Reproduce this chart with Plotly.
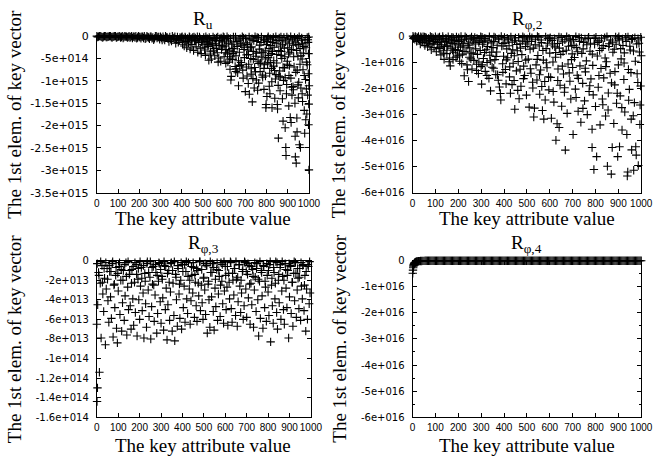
import plotly.graph_objects as go

# ---------------- tick labels ----------------
x_tickvals = [0, 100, 200, 300, 400, 500, 600, 700, 800, 900, 1000]
x_ticktext = ["0", "100", "200", "300", "400", "500", "600", "700", "800", "900", "1000"]

p1_tickvals = [0, -5e14, -1e15, -1.5e15, -2e15, -2.5e15, -3e15, -3.5e15]
p1_ticktext = ["0", "-5e+014", "-1e+015", "-1.5e+015", "-2e+015", "-2.5e+015", "-3e+015", "-3.5e+015"]
p2_tickvals = [0, -1e16, -2e16, -3e16, -4e16, -5e16, -6e16]
p2_ticktext = ["0", "-1e+016", "-2e+016", "-3e+016", "-4e+016", "-5e+016", "-6e+016"]
p3_tickvals = [0, -2e13, -4e13, -6e13, -8e13, -1e14, -1.2e14, -1.4e14, -1.6e14]
p3_ticktext = ["0", "-2e+013", "-4e+013", "-6e+013", "-8e+013", "-1e+014", "-1.2e+014", "-1.4e+014", "-1.6e+014"]

titles = ["R<sub>u</sub>", "R<sub>\u03c6,2</sub>", "R<sub>\u03c6,3</sub>", "R<sub>\u03c6,4</sub>"]
xlabel = "The key attribute value"
ylabel = "The 1st elem. of key vector"

# ---------------- panel 1 (R_u), y in units of 1e14 ----------------
p1_unit = 1e14
p1_xa = [0,8,16,24,32,40,48,56,64,72,80,88,96,104,112,120,128,136,144,152,160,168,176,184,192,200,208,216,224,232,240,248,256,264,272,280,288,296,304,312,320,328,336,344,352,360,368,376,384,392]
p1_ya = [0,-0.1,0,-0.2,-0.1,0,-0.2,-0.1,0,-0.3,-0.1,0,-0.2,-0.1,-0.3,0,-0.2,-0.1,-0.3,0,-0.2,-0.4,-0.1,0,-0.3,-0.2,-0.5,-0.1,0,-0.4,-0.2,-0.6,-0.1,-0.3,-0.5,0,-0.2,-0.7,-0.4,-0.1,-0.9,-0.3,-0.6,-0.2,-1.1,-0.5,-0.1,-0.8,-1.4,-0.3]
p1_xb = [4,12,20,28,36,44,52,60,68,76,84,92,100,108,116,124,132,140,148,156,164,172,180,188,196,204,212,220,228,236,244,252,260,268,276,284,292,300,308,316,324,332,340,348,356,364,372,380,388,396]
p1_yb = [-0.2,0,-0.1,-0.3,0,-0.2,-0.1,0,-0.2,-0.1,0,-0.3,-0.1,0,-0.2,-0.4,0,-0.1,-0.2,-0.3,0,-0.1,-0.3,-0.5,0,-0.2,-0.1,-0.4,-0.6,0,-0.3,-0.1,-0.5,-0.8,0,-0.4,-0.2,-0.1,-0.9,-0.5,0,-0.3,-1.2,-0.7,0,-0.4,-1.6,-0.2,-0.9,-0.5]
p1_xc = [400,404,408,412,416,420,424,428,432,436,440,444,448,452,456,460,464,468,472,476,480,484,488,492,496,500,504,508,512,516,520,524,528,532,536,540,544,548,552,556,560,564,568,572,576,580,584,588,592,596,600,
         402,418,426,438,446,458,466,474,486,494,506,514,522,530,538,546,554,562,570,578,586,594]
p1_yc = [-0.3,-1.8,-0.6,-2.2,-0.2,-1.2,-2.6,-0.5,-1.5,-0.1,-2.9,-0.8,-1.9,-0.3,-3.2,-1.1,-0.4,-2.4,-0.7,-3.6,-1.4,-0.2,-2.7,-3.9,-0.9,-1.8,-0.3,-3.1,-4.3,-1.2,-0.5,-2.3,-5.4,-0.8,-3.5,-5.1,-1.6,-0.2,-2.8,-4.4,-1.0,-0.4,-3.7,-5.8,-2.1,-0.6,-5.6,-3.0,-1.3,-0.1,-4.6,
         -0.1,-0.4,-0.9,-0.3,-0.6,-0.2,-1.0,-0.1,-0.5,-1.3,-0.7,-0.1,-1.5,-0.3,-0.9,-2.0,-0.5,-1.7,-0.2,-1.0,-0.4,-2.4]
p1_xd = [600,604,608,612,616,620,624,628,632,634,636,640,644,648,652,656,660,664,668,672,676,680,684,688,692,696,700,704,708,712,716,719,722,726,730,733,736,740,744,748,752,756,760,763,766,770,774,778,782,786,790,794,797,798,800,
         602,614,622,630,638,646,654,662,670,678,686,694,702,710,718,724,732,738,746,754,762,768,776,784,792,
         606,626,642,658,674,690,706,714,728,742,750,758,772,780,788,796]
p1_yd = [-0.3,-2.2,-6.1,-1.1,-4.0,-0.5,-3.3,-7.4,-9.8,-9.0,-1.8,-5.2,-0.2,-2.7,-6.8,-4.4,-1.2,-8.2,-11.1,-3.6,-0.6,-5.9,-2.0,-7.6,-0.4,-4.8,-12.4,-1.5,-8.9,-3.1,-6.3,-13.0,-0.8,-5.0,-2.4,-14.7,-9.5,-1.0,-7.0,-8.0,-3.8,-0.3,-5.6,-10.5,-2.9,-7.9,-1.4,-4.7,-9.2,-0.7,-6.4,-3.3,-16.0,-15.3,-1.9,
         -0.8,-0.1,-1.6,-0.6,-2.8,-1.3,-0.2,-2.3,-0.9,-1.7,-0.1,-3.0,-0.5,-1.9,-0.2,-2.6,-0.6,-3.4,-0.1,-1.2,-0.4,-2.0,-0.2,-3.7,-0.9,
         -3.7,-5.1,-3.9,-7.3,-6.6,-9.4,-4.2,-10.6,-8.5,-11.6,-4.5,-12.1,-6.0,-8.7,-11.9,-5.1]
p1_xe = [802,806,810,813,816,820,824,826,830,834,839,842,846,851,852,856,858,862,864,868,872,878,880,884,888,891,892,894,898,902,906,910,912,916,920,924,927,930,935,936,940,943,944,948,952,955,960,964,968,972,976,978,980,985,988,990,994,996,998,1000,1000,999,997,
         804,808,812,818,822,828,832,836,844,848,854,860,866,870,874,876,882,886,890,896,900,904,908,914,918,922,926,932,938,942,946,950,954,958,962,966,970,974,982,986,992,995,999,
         805,815,825,833,845,855,865,875,885,895,905,915,925,934,945,950,962,970,984,992]
p1_ye = [-13.5,-0.4,-4.3,-11.2,-12.9,-2.1,-7.2,-16.0,-0.8,-5.5,-13.9,-9.6,-1.6,-15.3,-16.3,-22.8,-3.2,-7.8,-12.2,-0.2,-5.0,-19.0,-9.9,-2.7,-20.5,-24.9,-26.7,-12.9,-6.3,-0.6,-8.8,-3.6,-18.2,-19.3,-13.2,-1.1,-12.0,-6.9,-22.4,-27.0,-28.4,-18.3,-21.4,-4.5,-10.3,-24.3,-24.9,-0.9,-12.9,-7.5,-2.3,-16.6,-21.7,-18.7,-5.8,-17.4,-13.2,-1.4,-19.8,-29.9,-11.1,-15.2,-8.4,
         -1.2,-0.1,-2.8,-0.6,-3.9,-1.4,-0.3,-2.5,-0.1,-4.1,-1.0,-0.4,-2.2,-3.4,-0.9,-1.8,-0.3,-4.6,-1.3,-0.2,-2.6,-4.0,-1.6,-0.1,-3.0,-0.7,-2.0,-0.3,-1.5,-3.2,-0.5,-1.9,-0.1,-2.8,-4.4,-0.4,-1.7,-3.8,-0.8,-2.6,-0.3,-0.8,-0.2,
         -6.2,-8.3,-10.2,-6.7,-8.6,-11.0,-9.1,-14.0,-7.1,-10.8,-15.6,-9.4,-11.3,-15.0,-7.6,-13.8,-11.6,-14.6,-9.7,-6.4]
p1_xf = [510,525,535,550,565,575,590,610,618,632,645,655,668,682,695,705,715,728,738,752,765,775,788,795,808,818,828,838,848,858,868,878,888,898,908,918,928,938,948,958,968,978,988,998]
p1_yf = [-2.6,-1.9,-4.0,-3.3,-2.7,-4.9,-2.0,-3.0,-5.8,-4.6,-3.5,-7.9,-5.5,-6.4,-2.5,-6.9,-4.1,-7.3,-5.2,-9.8,-6.1,-3.6,-7.2,-8.9,-4.8,-5.9,-3.4,-7.7,-6.0,-8.9,-4.3,-7.0,-9.3,-5.6,-6.6,-11.4,-4.6,-8.1,-10.9,-6.3,-5.1,-8.8,-11.8,-3.9]

# ---------------- panel 2 (R_phi,2), y in units of 1e15 ----------------
p2_unit = 1e15
p2_xa = [2,6,10,14,18,22,26,30,34,38,42,46,50,54,58,62,66,70,74,78,82,86,90,94,98, 4,12,20,28,36,44,52,60,68,76,84,92,
         100,104,108,112,116,120,124,128,132,136,138,142,146,150,154,158,162,165,168,172,176,177,180,184,188,192,196,200,
         102,110,118,126,134,140,148,156,164,170,178,186,194,198]
p2_ya = [0,-0.5,-1.2,-0.3,-2.0,-0.8,-0.1,-1.6,-3.0,-0.6,-2.4,-0.2,-1.1,-3.6,-0.4,-2.2,-4.1,-0.9,-1.7,-0.1,-5.2,-2.9,-0.7,-4.4,-1.3,
         -0.9,-0.1,-0.5,-1.0,-0.2,-1.4,-0.3,-0.8,-2.7,-3.3,-0.4,-2.0,
         -0.2,-6.0,-2.5,-0.6,-4.8,-1.4,-7.2,-3.3,-0.1,-5.6,-8.9,-2.1,-0.8,-6.7,-3.9,-1.2,-8.4,-11.4,-4.6,-0.4,-2.8,-9.0,-6.2,-1.7,-5.1,-0.3,-7.6,-3.4,
         -1.0,-3.1,-0.3,-2.2,-1.0,-4.0,-1.8,-0.2,-2.6,-1.1,-0.6,-3.0,-1.5,-5.5]
p2_xb = [202,206,210,214,218,222,226,230,234,238,242,245,248,252,256,260,264,268,272,276,280,284,288,292,296,300,
         204,212,220,228,236,244,250,258,266,274,282,290,298,
         302,306,310,314,318,322,326,330,334,338,341,344,348,352,356,360,364,368,372,376,380,384,386,390,394,398,
         304,312,320,328,336,346,354,362,370,378,388,396]
p2_yb = [-0.6,-9.6,-4.2,-1.5,-6.9,-2.7,-15.2,-0.2,-5.8,-11.0,-3.5,-17.4,-8.1,-1.0,-6.4,-12.6,-2.3,-9.3,-0.5,-4.9,-10.8,-7.0,-14.3,-1.8,-5.5,-11.7,
         -2.0,-0.1,-3.8,-1.2,-0.7,-2.9,-4.5,-0.3,-1.4,-3.0,-0.9,-2.5,-0.2,
         -18.4,-3.1,-8.6,-0.9,-13.5,-5.2,-10.1,-1.6,-16.2,-7.3,-21.0,-2.6,-11.9,-4.4,-0.3,-9.0,-14.7,-6.1,-14.8,-1.2,-19.5,-22.0,-24.5,-3.8,-10.6,-7.7,
         -0.4,-2.2,-1.0,-4.0,-0.2,-6.2,-2.0,-0.6,-3.5,-1.0,-0.1,-2.8]
p2_xc = [402,406,409,412,416,420,424,428,432,436,440,444,447,450,454,458,462,466,470,474,478,482,486,490,494,498,
         404,414,422,430,438,446,456,464,472,480,488,496,
         502,506,510,514,518,522,526,530,533,536,540,544,548,552,556,560,564,568,572,574,578,580,584,588,592,596,600,
         504,512,520,528,538,546,554,562,570,582,590,598]
p2_yc = [-0.5,-12.8,-18.3,-4.9,-8.3,-1.4,-15.6,-21.9,-6.6,-2.3,-10.4,-17.0,-28.0,-0.7,-13.3,-5.6,-9.7,-24.0,-2.9,-19.2,-7.1,-0.2,-11.5,-15.1,-4.0,-22.6,
         -2.6,-0.8,-3.7,-0.3,-5.2,-1.6,-3.2,-0.5,-4.6,-1.9,-0.6,-2.2,
         -1.1,-8.8,-27.2,-5.0,-14.2,-0.6,-19.9,-31.0,-27.6,-3.3,-11.0,-16.8,-7.4,-0.4,-22.3,-13.0,-2.5,-28.5,-9.2,-31.8,-17.4,-24.5,-4.8,-12.1,-0.9,-20.6,-6.5,
         -3.0,-0.2,-2.0,-4.6,-1.2,-0.1,-3.8,-1.5,-5.5,-0.3,-2.7,-1.0]
p2_xd = [604,607,610,614,618,622,627,632,636,640,641,645,648,652,656,660,664,668,672,676,680,684,688,692,696,700,702,
         602,612,620,626,634,642,650,658,666,674,682,690,698,
         704,708,712,716,720,724,728,732,736,740,744,748,752,756,760,764,768,772,776,780,785,785,788,793,796,800,805,
         706,714,722,730,738,746,754,762,770,778,786,794]
p2_yd = [-15.8,-31.5,-1.7,-9.9,-25.3,-4.1,-39.9,-33.6,-12.6,-0.3,-35.0,-18.8,-7.0,-26.9,-2.2,-14.5,-21.5,-43.7,-5.4,-29.6,-10.7,-0.8,-17.3,-24.1,-3.6,-12.0,-37.7,
         -0.6,-3.4,-1.0,-6.3,-2.8,-4.6,-0.5,-5.9,-1.4,-0.2,-3.9,-1.8,-6.8,
         -1.3,-8.2,-20.3,-4.3,-15.0,-28.8,-0.5,-11.4,-33.0,-6.6,-18.1,-2.4,-24.8,-13.7,-9.5,-30.1,-0.9,-21.2,-5.8,-16.4,-35.7,-42.7,-11.2,-51.1,-3.1,-27.0,-46.2,
         -3.5,-0.2,-6.0,-2.0,-0.7,-4.9,-1.1,-3.3,-0.4,-2.7,-6.9,-0.9]
p2_xe = [808,812,816,820,824,828,832,836,840,844,848,852,856,860,864,869,873,876,880,884,888,892,897,900,
         802,810,818,826,834,842,850,858,866,874,882,890,898,
         904,905,908,912,916,920,924,928,932,937,939,941,944,948,952,956,958,962,967,970,974,976,978,982,987,990,994,997,1000,
         902,910,918,926,934,942,950,958,966,972,980,986,992,998]
p2_ye = [-7.6,-19.6,-1.8,-34.0,-12.4,-4.7,-26.3,-16.0,-0.6,-30.6,-9.8,-49.9,-21.8,-2.9,-14.2,-52.9,-42.7,-6.2,-33.5,-18.7,-0.3,-25.7,-46.2,-11.0,
         -0.4,-2.4,-5.5,-1.0,-3.6,-8.4,-0.2,-4.0,-1.5,-2.3,-5.0,-3.1,-0.8,
         -1.5,-42.4,-22.9,-8.7,-36.0,-3.6,-16.6,-29.1,-0.4,-37.7,-53.6,-52.1,-12.8,-20.4,-5.3,-31.8,-43.6,-0.9,-51.4,-25.5,-9.6,-42.4,-45.6,-14.4,-49.6,-2.7,-33.9,-19.1,-7.5,
         -0.2,-4.8,-1.1,-6.4,-2.0,-0.3,-3.9,-1.3,-5.7,-0.6,-3.0,-1.0,-6.1,-0.4]
p2_xf = [120,135,150,160,175,190,205,215,225,240,255,265,280,290,305,315,325,340,355,365,375,395,410,425,435,445,460,470,485,495,
         515,525,545,555,565,585,595,615,625,635,655,665,685,695,715,725,745,755,775,790,815,830,845,855,870,885,895,915,925,945,
         955,965,985,995]
p2_yf = [-4.2,-6.5,-3.7,-9.8,-5.4,-8.1,-7.3,-10.5,-5.9,-12.9,-8.7,-6.8,-13.2,-9.9,-11.0,-6.3,-15.1,-9.5,-12.3,-7.8,
         -16.9,-13.9,-9.1,-11.8,-18.6,-7.5,-20.8,-12.7,-16.3,-9.2,-12.5,-17.7,-8.9,-14.8,-19.3,-10.2,-15.6,-21.2,-8.1,-17.0,
         -11.5,-19.8,-14.1,-9.0,-23.5,-16.2,-27.7,-12.3,-19.0,-22.5,-15.1,-24.1,-11.7,-28.3,-17.9,-13.6,-21.9,-27.4,-10.3,-24.6,
         -14.0,-30.5,-17.8,-26.4]

# ---------------- panel 3 (R_phi,3), y in units of 1e13 ----------------
p3_unit = 1e13
p3_xa = [0,4,8,12,16,20,24,28,32,36,40,44,48,52,56,60,64,68,72,76,80,84,88,92,96,
         100,104,108,112,116,120,124,128,132,136,140,144,148,152,156,160,164,168,172,176,180,184,188,192,196,
         200,204,208,212,216,220,224,228,232,236,240,244,248,252,256,260,264,268,272,276,280,284,288,292,296,
         300,304,308,312,316,320,324,328,332,336,340,344,348,352,356,360,364,368,372,376,380,384,388,392,396,
         400,404,408,412,416,420,424,428,432,436,440,444,448,452,456,460,464,468,472,476,480,484,488,492,496,
         500,504,508,512,516,520,524,528,532,536,540,544,548,552,556,560,564,568,572,576,580,584,588,592,596,
         600,604,608,612,616,620,624,628,632,636,640,644,648,652,656,660,664,668,672,676,680,684,688,692,696,
         700,704,708,712,716,720,724,728,732,736,740,744,748,752,756,760,764,768,772,776,780,784,788,792,796,
         800,804,808,812,816,820,824,828,832,836,840,844,848,852,856,860,864,868,872,876,880,884,888,892,896,
         900,904,908,912,916,920,924,928,932,936,940,944,948,952,956,960,964,968,972,976,980,984,988,992,996]
p3_ya = [-6.5,-4.5,-1.2,-11.4,-2.3,-7.9,-0.5,-3.4,-5.2,-1.8,-8.6,-2.9,-0.8,-4.1,-6.3,-1.1,-3.7,-5.9,-0.3,-7.8,-2.5,-4.8,-1.5,-6.9,-8.4,
         -3.1,-0.6,-5.5,-2.0,-7.2,-4.3,-1.0,-6.1,-3.6,-0.2,-7.6,-2.7,-5.0,-1.4,-4.6,-7.0,-0.9,-3.9,-6.6,-2.2,-5.3,-0.4,-7.7,-1.9,-4.0,
         -6.0,-2.6,-0.7,-5.1,-3.3,-7.9,-1.3,-4.4,-6.8,-0.1,-3.0,-5.7,-1.7,-8.0,-4.7,-2.4,-0.6,-6.2,-3.5,-1.2,-7.4,-5.4,-2.1,-0.3,-4.2,
         -6.4,-1.6,-3.8,-7.1,-0.5,-5.0,-2.8,-8.1,-4.5,-1.0,-6.1,-3.2,-0.2,-7.2,-2.3,-5.6,-8.2,-1.4,-4.0,-6.7,-0.8,-3.4,-5.9,-2.0,-7.0,
         -0.4,-4.8,-2.6,-6.3,-1.1,-3.9,-5.4,-0.2,-2.9,-6.5,-4.1,-1.5,-3.3,-0.7,-5.8,-2.2,-4.6,-6.2,-1.0,-3.6,-0.1,-5.1,-2.5,-4.3,-6.0,
         -1.7,-3.0,-5.5,-0.5,-7.4,-2.4,-4.0,-6.8,-1.2,-3.7,-0.3,-5.2,-7.1,-2.8,-4.7,-0.9,-6.1,-3.4,-1.6,-5.7,-0.2,-2.1,-4.4,-6.4,-3.1,
         -0.6,-5.0,-2.7,-6.6,-1.3,-3.9,-0.1,-4.9,-6.3,-2.0,-3.5,-0.8,-5.6,-1.9,-6.7,-4.2,-0.4,-2.6,-5.3,-3.3,-1.1,-6.0,-4.6,-0.2,-2.9,
         -5.8,-1.4,-3.8,-0.5,-6.5,-2.3,-4.5,-0.9,-6.8,-3.0,-1.7,-5.2,-0.3,-4.0,-7.7,-2.1,-5.9,-1.0,-3.6,-6.9,-0.6,-4.8,-2.7,-6.2,-1.5,
         -3.2,-5.6,-0.4,-8.3,-2.5,-4.6,-6.4,-1.2,-3.9,-0.1,-5.3,-7.0,-2.0,-4.3,-0.7,-6.0,-3.1,-1.6,-5.0,-6.5,-0.3,-2.8,-4.8,-1.0,-7.9,
         -3.7,-0.5,-5.4,-2.2,-6.7,-1.3,-4.1,-0.2,-5.8,-3.0,-1.8,-4.9,-0.8,-6.1,-2.6,-3.9,-0.4,-5.1,-1.5,-7.2,-2.9,-6.0,-0.6,-4.4,-3.3]
p3_xb = [2,10,18,26,34,42,50,58,66,74,82,90,98,106,114,122,130,138,146,154,162,170,178,186,194,
         202,210,218,226,234,242,250,258,266,274,282,290,298,306,314,322,330,338,346,354,362,370,378,386,394,
         402,410,418,426,434,442,450,458,466,474,482,490,498,506,514,522,530,538,546,554,562,570,578,586,594,
         602,610,618,626,634,642,650,658,666,674,682,690,698,706,714,722,730,738,746,754,762,770,778,786,794,
         802,810,818,826,834,842,850,858,866,874,882,890,898,906,914,922,930,938,946,954,962,970,978,986,994,
         1,3]
p3_yb = [-0.3,-1.5,-0.1,-2.2,-0.8,-0.2,-1.9,-0.5,-1.1,-0.1,-2.4,-0.7,-1.3,-0.2,-0.9,-2.0,-0.4,-1.6,-0.1,-1.0,-2.3,-0.6,-0.2,-1.4,-0.8,
         -0.1,-1.8,-0.5,-2.1,-0.3,-1.2,-0.1,-0.7,-2.5,-0.4,-1.5,-0.2,-0.9,-1.9,-0.1,-0.6,-1.3,-2.2,-0.3,-1.0,-0.1,-1.7,-0.5,-2.4,-0.2,
         -1.1,-0.4,-0.1,-1.6,-2.0,-0.6,-0.2,-1.4,-0.8,-2.3,-0.1,-0.9,-1.8,-0.3,-0.5,-2.1,-0.1,-1.2,-0.7,-1.9,-0.2,-1.0,-2.5,-0.4,-0.1,
         -1.5,-0.6,-2.2,-0.2,-1.3,-0.8,-0.1,-1.7,-0.4,-2.0,-0.9,-0.1,-1.1,-0.3,-2.4,-0.6,-1.6,-0.2,-0.8,-1.9,-0.1,-1.2,-0.5,-2.1,-0.3,
         -1.0,-0.1,-1.8,-0.7,-2.3,-0.2,-1.4,-0.4,-0.1,-2.0,-0.9,-1.5,-0.3,-0.6,-2.2,-0.1,-1.3,-0.8,-1.7,-0.2,-0.5,-2.5,-1.1,-0.4,-0.1,
         -14.4,-13.0]

# ---------------- panel 4 (R_phi,4), y in units of 1e15 ----------------
p4_unit = 1e15
p4_x = [1,2,3,4,5,6,7,8,9,10,12,14,16,18,20,23,26,30,35,40,45,
        50,55,60,65,70,75,80,85,90,95,100,105,110,115,120,125,130,135,140,145,150,155,160,165,170,175,180,185,190,195,
        200,210,220,230,240,250,260,270,280,290,
        300,310,320,330,340,350,360,370,380,390,400,410,420,430,440,450,460,470,480,490,500,510,520,530,540,
        550,560,570,580,590,600,610,620,630,640,650,660,670,680,690,700,710,720,730,740,750,760,770,780,790,
        800,810,820,830,840,850,860,870,880,890,900,910,920,930,940,950,960,970,980,990,1000]
p4_y = [-4.8,-3.6,-2.7,-2.1,-1.7,-1.4,-1.2,-1.0,-0.9,-0.8,-0.6,-0.5,-0.45,-0.4,-0.3,-0.25,-0.2,-0.15,-0.12,-0.1,-0.08,
        -0.06,-0.03,-0.02,-0.05,-0.04,-0.02,-0.01,-0.04,-0.03,-0.02,-0.05,-0.01,-0.02,-0.04,-0.01,-0.03,-0.02,-0.01,-0.04,-0.02,-0.03,-0.01,-0.02,-0.05,-0.01,-0.03,-0.02,-0.04,-0.01,-0.02,
        -0.01,-0.03,-0.02,-0.01,-0.04,-0.02,-0.03,-0.01,-0.02,-0.05,
        -0.01,-0.03,-0.02,-0.04,-0.01,-0.02,-0.03,-0.01,-0.05,-0.02,-0.01,-0.04,-0.02,-0.03,-0.01,-0.02,-0.04,-0.01,-0.03,-0.02,-0.01,-0.05,-0.02,-0.03,-0.01,
        -0.04,-0.02,-0.01,-0.03,-0.02,-0.05,-0.01,-0.02,-0.04,-0.01,-0.03,-0.02,-0.01,-0.04,-0.02,-0.03,-0.01,-0.05,-0.02,-0.01,-0.03,-0.02,-0.04,-0.01,-0.02,
        -0.03,-0.01,-0.04,-0.02,-0.01,-0.05,-0.02,-0.03,-0.01,-0.04,-0.02,-0.01,-0.03,-0.02,-0.05,-0.01,-0.02,-0.04,-0.01,-0.03,-0.02]
p4_xz = [205,215,225,235,245,255,265,275,285,295,305,315,325,335,345,355,365,375,385,395,405,415,425,435,445,455,465,475,485,495,
         505,515,525,535,545,555,565,575,585,595,605,615,625,635,645,655,665,675,685,695,705,715,725,735,745,755,765,775,785,795,
         805,815,825,835,845,855,865,875,885,895,905,915,925,935,945,955,965,975,985,995]
p4_yz = [-0.02,-0.01,-0.03,-0.02,-0.01,-0.02,-0.04,-0.01,-0.02,-0.03,-0.01,-0.02,-0.02,-0.01,-0.03,-0.02,-0.01,-0.04,-0.02,-0.01,
         -0.02,-0.03,-0.01,-0.02,-0.01,-0.03,-0.02,-0.01,-0.02,-0.04,-0.01,-0.02,-0.03,-0.01,-0.02,-0.01,-0.03,-0.02,-0.01,-0.02,
         -0.04,-0.01,-0.02,-0.03,-0.01,-0.02,-0.01,-0.03,-0.02,-0.01,-0.02,-0.04,-0.01,-0.02,-0.03,-0.01,-0.02,-0.01,-0.03,-0.02,
         -0.01,-0.02,-0.04,-0.01,-0.02,-0.03,-0.01,-0.02,-0.01,-0.03,-0.02,-0.01,-0.02,-0.04,-0.01,-0.02,-0.03,-0.01,-0.02,-0.01]

def join(*pairs):
    xs, ys = [], []
    for xl, yl in pairs:
        assert len(xl) == len(yl), (len(xl), len(yl))
        xs += xl
        ys += yl
    return xs, ys

p1x, p1y = join((p1_xa, p1_ya), (p1_xb, p1_yb), (p1_xc, p1_yc), (p1_xd, p1_yd), (p1_xe, p1_ye), (p1_xf, p1_yf))
p2x, p2y = join((p2_xa, p2_ya), (p2_xb, p2_yb), (p2_xc, p2_yc), (p2_xd, p2_yd), (p2_xe, p2_ye), (p2_xf, p2_yf))
p3x, p3y = join((p3_xa, p3_ya), (p3_xb, p3_yb))
p4x, p4y = join((p4_x, p4_y), (p4_xz, p4_yz))

panels = [
    (p1x, [v * p1_unit for v in p1y], "x", "y"),
    (p2x, [v * p2_unit for v in p2y], "x2", "y2"),
    (p3x, [v * p3_unit for v in p3y], "x3", "y3"),
    (p4x, [v * p4_unit for v in p4y], "x4", "y4"),
]

W, H = 664, 466
fig = go.Figure()
for xs, ys, xa, ya in panels:
    fig.add_trace(go.Scatter(
        x=xs, y=ys, xaxis=xa, yaxis=ya, mode="markers", cliponaxis=False,
        marker=dict(symbol="cross-thin", size=6, color="black",
                    line=dict(width=1.1, color="black")),
        showlegend=False, hoverinfo="skip"))

def px_dom(a, b, total, flip=False):
    if flip:
        return [1 - b / total, 1 - a / total]
    return [a / total, b / total]

tickfont_x = dict(family="Liberation Sans, Arial, sans-serif", size=10, color="black")

def xaxis(dom, anchor):
    return dict(domain=dom, anchor=anchor, range=[0, 1000], tickmode="array",
                tickvals=x_tickvals, ticktext=x_ticktext, ticks="inside", ticklen=4,
                tickcolor="black", showline=True, linecolor="black", linewidth=1,
                mirror="ticks", showgrid=False, zeroline=False, tickangle=0,
                tickfont=tickfont_x, ticklabelstandoff=1)

def yaxis(dom, anchor, rng, tv, tt, fsize, minor=None):
    d = dict(domain=dom, anchor=anchor, range=rng, tickmode="array",
             tickvals=tv, ticktext=tt, ticks="inside", ticklen=4,
             tickcolor="black", showline=True, linecolor="black", linewidth=1,
             mirror="ticks", showgrid=False, zeroline=False,
             tickfont=dict(family="DejaVu Sans, sans-serif", size=fsize, color="black"),
             ticklabelstandoff=5)
    if minor:
        d["minor"] = minor
    return d

xd1 = px_dom(96, 313, W); xd2 = px_dom(419, 653, W)
xd3 = px_dom(96, 315, W); xd4 = px_dom(419, 653, W)
ydt = px_dom(31, 192, H, flip=True); ydb = px_dom(262, 423, H, flip=True)

p4_minor = dict(tickmode="array", tickvals=[-5e15, -1.5e16, -2.5e16, -3.5e16, -4.5e16, -5.5e16],
                ticks="inside", ticklen=2, tickcolor="black", showgrid=False)

fig.update_layout(
    width=W, height=H, margin=dict(l=0, r=0, t=0, b=0),
    paper_bgcolor="white", plot_bgcolor="white",
    xaxis=xaxis(xd1, "y"), yaxis=yaxis(ydt, "x", [-3.5e15, 0], p1_tickvals, p1_ticktext, 11),
    xaxis2=xaxis(xd2, "y2"), yaxis2=yaxis(ydt, "x2", [-6e16, 0], p2_tickvals, p2_ticktext, 10),
    xaxis3=xaxis(xd3, "y3"), yaxis3=yaxis(ydb, "x3", [-1.6e14, 0], p3_tickvals, p3_ticktext, 10),
    xaxis4=xaxis(xd4, "y4"), yaxis4=yaxis(ydb, "x4", [-6e16, 0], p2_tickvals, p2_ticktext, 10, p4_minor),
)

serif = dict(family="Liberation Serif, Times New Roman, serif", size=19, color="black")
ann = []
for t, cx, cy in [(titles[0], 205, 14), (titles[1], 536, 14), (titles[2], 205, 245), (titles[3], 536, 245)]:
    ann.append(dict(text=t, x=cx / W, y=1 - cy / H, xref="paper", yref="paper",
                    showarrow=False, xanchor="center", yanchor="middle", font=serif))
for cx, cy in [(205, 219), (536, 219), (205, 452), (536, 452)]:
    ann.append(dict(text=xlabel, x=cx / W, y=1 - cy / H, xref="paper", yref="paper",
                    showarrow=False, xanchor="center", yanchor="middle", font=serif))
for cx, cy in [(12, 111), (344, 111), (12, 342), (344, 342)]:
    ann.append(dict(text=ylabel, x=cx / W, y=1 - cy / H, xref="paper", yref="paper",
                    showarrow=False, xanchor="center", yanchor="middle", textangle=-90, font=serif))
fig.update_layout(annotations=ann)

fig.write_html("out.html", config={"displayModeBar": False},
               post_script="document.body.style.margin='0';document.body.style.padding='0';")
